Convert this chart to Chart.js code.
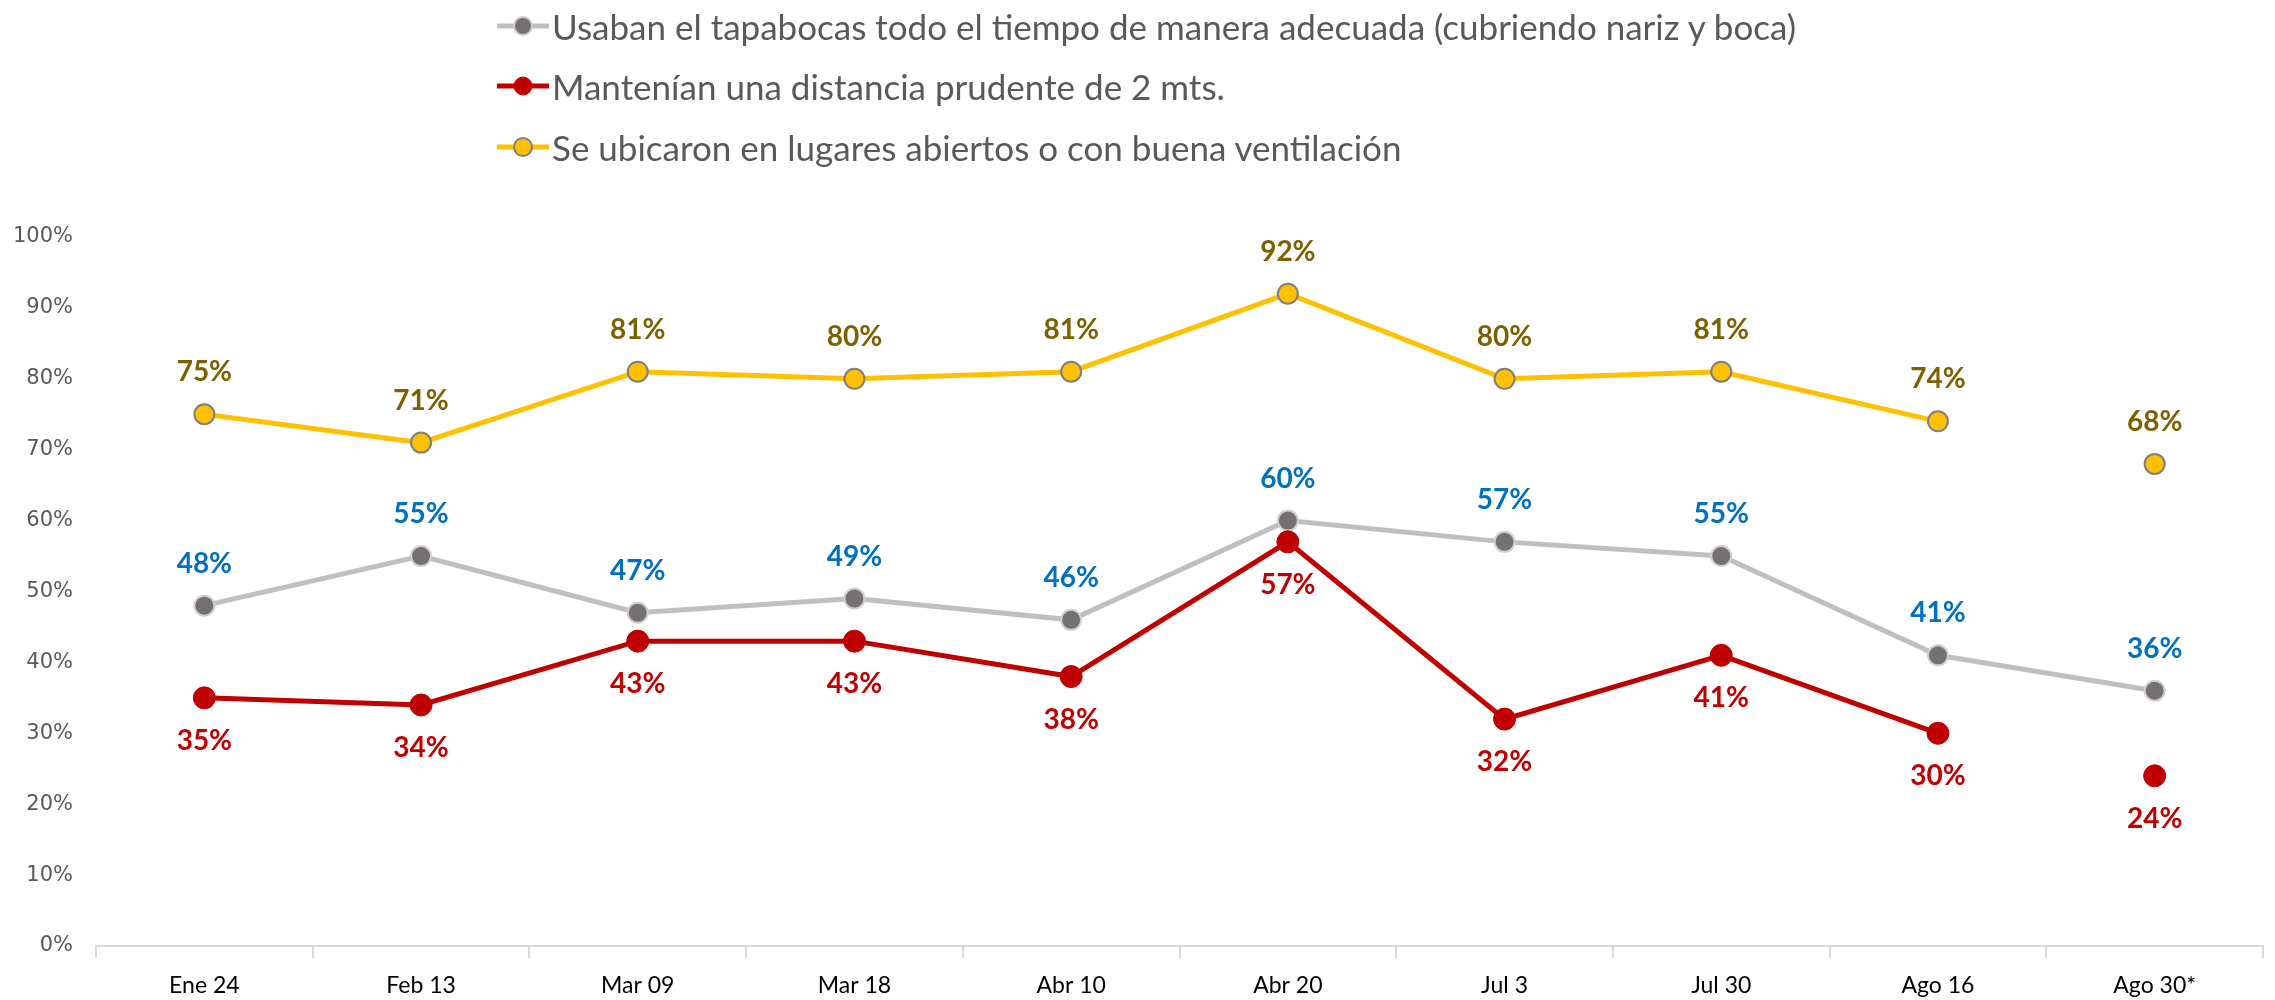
<!DOCTYPE html>
<html>
<head>
<meta charset="utf-8">
<script src="https://cdn.jsdelivr.net/npm/chart.js@4.4.1/dist/chart.umd.min.js"></script>
<style>
html,body{margin:0;padding:0;background:#fff;}
#wrap{position:relative;width:2275px;height:1000px;overflow:hidden;}
#c{position:absolute;left:0;top:0;}
#legend{position:absolute;left:497px;top:0;font-family:Lato,sans-serif;font-size:35px;color:#595959;}
.li{position:absolute;left:0;white-space:nowrap;display:flex;align-items:center;height:44px;}
.li svg{display:block;margin-right:3px;}
</style>
</head>
<body>
<div id="wrap">
<canvas id="c" width="2275" height="1000" style="width:2275px;height:1000px"></canvas>
<div id="legend"></div>
</div>
<script>
const categories = ["Ene 24","Feb 13","Mar 09","Mar 18","Abr 10","Abr 20","Jul 3","Jul 30","Ago 16","Ago 30*"];
const tapabocas = [48,55,47,49,46,60,57,55,41,36];
const distancia = [35,34,43,43,38,57,32,41,30,24];
const ventilacion = [75,71,81,80,81,92,80,81,74,68];
const seriesNames = [
  "Usaban el tapabocas todo el tiempo de manera adecuada (cubriendo nariz y boca)",
  "Mantenían una distancia prudente de 2 mts.",
  "Se ubicaron en lugares abiertos o con buena ventilación"
];
const yTickValues = [0,10,20,30,40,50,60,70,80,90,100];

const hideLastSegment = ctx => ctx.p1DataIndex === categories.length - 1 ? 'rgba(0,0,0,0)' : undefined;

const datasets = [
  {label: seriesNames[0], data: tapabocas, borderColor:'#BFBFBF', backgroundColor:'#767171',
   pointBackgroundColor:'#767171', pointBorderColor:'#D0CECE', pointBorderWidth:2, pointRadius:10,
   borderWidth:5, order:1, labelColor:'#0070C0', labelPos:'above'},
  {label: seriesNames[1], data: distancia, borderColor:'#C00000', backgroundColor:'#C00000',
   pointBackgroundColor:'#C00000', pointBorderColor:'#C00000', pointBorderWidth:1, pointRadius:11,
   borderWidth:5, order:0, segment:{borderColor: hideLastSegment}, labelColor:'#C00000', labelPos:'below'},
  {label: seriesNames[2], data: ventilacion, borderColor:'#FFC000', backgroundColor:'#FFC000',
   pointBackgroundColor:'#FFC000', pointBorderColor:'#7F7F7F', pointBorderWidth:2, pointRadius:10,
   borderWidth:5, order:2, segment:{borderColor: hideLastSegment}, labelColor:'#7F6000', labelPos:'above'}
];

const valueLabels = {
  id:'valueLabels',
  afterDatasetsDraw(chart){
    const ctx = chart.ctx;
    ctx.save();
    ctx.font = 'bold 28px Lato, sans-serif';
    ctx.textAlign = 'center';
    ctx.textBaseline = 'middle';
    chart.data.datasets.forEach((ds, di) => {
      const meta = chart.getDatasetMeta(di);
      meta.data.forEach((pt, i) => {
        const v = ds.data[i];
        if (v == null) return;
        ctx.fillStyle = ds.labelColor;
        const dy = ds.labelPos === 'above' ? -42 : 43;
        ctx.fillText(v + '%', pt.x, pt.y + dy);
      });
    });
    ctx.restore();
  }
};

const chart = new Chart(document.getElementById('c'), {
  type:'line',
  data:{labels:categories, datasets:datasets},
  options:{
    responsive:false, animation:false, devicePixelRatio:1,
    layout:{padding:{top:237, right:9, left:0, bottom:0}},
    plugins:{legend:{display:false}, tooltip:{enabled:false}},
    scales:{
      x:{offset:true,
         grid:{offset:true, drawOnChartArea:false, tickLength:12, color:'#D9D9D9', lineWidth:2},
         border:{color:'#D9D9D9', width:2},
         ticks:{font:{family:'Lato', size:23}, color:'#000000', padding:14, maxRotation:0},
         afterFit(s){ s.height = 54; }},
      y:{min:0, max:100,
         afterBuildTicks(s){ s.ticks = yTickValues.map(v => ({value:v})); },
         ticks:{callback:v => v + '%', font:{family:'DejaVu Sans', size:21}, color:'#595959', padding:23},
         grid:{display:false, drawTicks:false}, border:{display:false},
         afterFit(s){ s.width = 96; }}
    }
  },
  plugins:[valueLabels]
});

// HTML legend built from the datasets
const legendEl = document.getElementById('legend');
const legendY = [26, 86, 147];
chart.data.datasets.forEach((ds, i) => {
  const item = document.createElement('div');
  item.className = 'li';
  item.style.top = (legendY[i] - 22) + 'px';
  item.innerHTML = '<svg width="52" height="30"><line x1="0" y1="15" x2="52" y2="15" stroke="' + ds.borderColor +
    '" stroke-width="5"/><circle cx="26" cy="15" r="9" fill="' + ds.pointBackgroundColor + '" stroke="' +
    ds.pointBorderColor + '" stroke-width="' + ds.pointBorderWidth + '"/></svg>';
  const span = document.createElement('span');
  span.textContent = ds.label;
  item.appendChild(span);
  legendEl.appendChild(item);
});
</script>
</body>
</html>
